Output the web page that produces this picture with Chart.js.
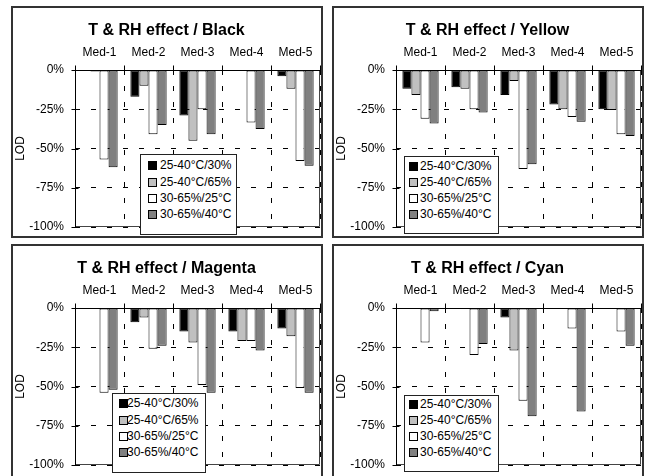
<!DOCTYPE html>
<html><head><meta charset="utf-8">
<script src="https://cdn.jsdelivr.net/npm/chart.js@4/dist/chart.umd.min.js"></script>
<style>
html,body{margin:0;padding:0;background:#fff;width:645px;height:476px;overflow:hidden;font-family:"Liberation Sans",Arial,sans-serif;}
.panel{position:absolute;border:2px solid #333;box-sizing:border-box;background:#fff;}
canvas{position:absolute;}
.legend{position:absolute;border:1px solid #222;background:#fff;box-sizing:border-box;}
.item{position:absolute;font-size:12px;line-height:14px;white-space:nowrap;color:#000;}
.sw{position:absolute;width:9px;height:9px;border:1px solid #000;box-sizing:border-box;}
</style></head><body>
<script>
// ---------- DATA ----------
const categories = ['Med-1','Med-2','Med-3','Med-4','Med-5'];
const seriesLabels = ['25-40\u00B0C/30%','25-40\u00B0C/65%','30-65%/25\u00B0C','30-65%/40\u00B0C'];
const seriesColors = ['#000000','#c0c0c0','#ffffff','#808080'];
const yTickValues = [0,-25,-50,-75,-100];
const panelTitles = ['T & RH effect / Black','T & RH effect / Yellow','T & RH effect / Magenta','T & RH effect / Cyan'];
const yAxisTitle = 'LOD';

// Black
const black_25_40C_30 = [0,-17,-29,0,-4];
const black_25_40C_65 = [-1,-10,-45,0,-12];
const black_30_65_25C = [-57,-41,-25,-33.5,-58];
const black_30_65_40C = [-62,-35,-41,-37.5,-61];
// Yellow
const yellow_25_40C_30 = [-12,-11,-16,-22,-25];
const yellow_25_40C_65 = [-16,-12,-7,-25,-25.5];
const yellow_30_65_25C = [-31,-25,-63,-30,-41];
const yellow_30_65_40C = [-34,-27,-60,-33,-42];
// Magenta
const magenta_25_40C_30 = [0,-9,-15,-15,-13];
const magenta_25_40C_65 = [0,-6,-22,-21,-18];
const magenta_30_65_25C = [-54,-26,-49,-21,-51];
const magenta_30_65_40C = [-52,-24,-54,-27,-54];
// Cyan
const cyan_25_40C_30 = [0,0,-6,0,0];
const cyan_25_40C_65 = [0,0,-27,0,0];
const cyan_30_65_25C = [-22,-30,-59,-13,-15];
const cyan_30_65_40C = [-2,-23,-69,-66,-24];

const panelSeries = [
  [black_25_40C_30, black_25_40C_65, black_30_65_25C, black_30_65_40C],
  [yellow_25_40C_30, yellow_25_40C_65, yellow_30_65_25C, yellow_30_65_40C],
  [magenta_25_40C_30, magenta_25_40C_65, magenta_30_65_25C, magenta_30_65_40C],
  [cyan_25_40C_30, cyan_25_40C_65, cyan_30_65_25C, cyan_30_65_40C]
];

// ---------- LAYOUT ----------
const FONT = '"Liberation Sans", Arial, sans-serif';
const panels = [
  {left:11, top:6, h:232},
  {left:332, top:6, h:232},
  {left:11, top:244, h:240},
  {left:332, top:244, h:240}
];
const PW = 312;
// chart area relative to panel's outer top-left
const CA = {L:64, T:64, R:309, B:221};
const legends = [
  {x:127, y:146, w:97, h:81, rows:[11,28,44,60], sw:8, tx:20},
  {x:70, y:148, w:95, h:78, rows:[10,26,42,58], sw:5, tx:16},
  {x:99, y:147, w:94, h:80, rows:[10,27,43,59], sw:7, tx:15},
  {x:70, y:149, w:95, h:77, rows:[9,25,41,57], sw:5, tx:16}
];

const decor = {
  id:'decor',
  beforeDatasetsDraw(chart){
    const {ctx, chartArea:a} = chart;
    ctx.save();
    ctx.strokeStyle = '#444'; ctx.lineWidth = 1;
    const r = Math.round(a.right) - 0.5, b = Math.round(a.bottom) - 0.5;
    ctx.beginPath();
    ctx.moveTo(r, a.top); ctx.lineTo(r, b); ctx.lineTo(a.left, b);
    ctx.stroke();
    ctx.restore();
  },
  afterDatasetsDraw(chart){
    const {ctx, chartArea:a, scales:{x, y}} = chart;
    ctx.save();
    ctx.strokeStyle = '#000'; ctx.lineWidth = 1;
    const l = Math.round(a.left) + 0.5;
    const z = Math.round(y.getPixelForValue(0)) + 0.5;
    ctx.beginPath();
    ctx.moveTo(l, a.top); ctx.lineTo(l, a.bottom);
    ctx.moveTo(a.left, z); ctx.lineTo(a.right, z);
    yTickValues.forEach(v => {
      const py = Math.round(y.getPixelForValue(v)) + 0.5;
      ctx.moveTo(l - 4, py); ctx.lineTo(l + 3, py);
    });
    for (let i = 0; i <= categories.length; i++) {
      const px = Math.round(x.getPixelForValue(i - 0.5)) + 0.5;
      ctx.moveTo(px, z - 5); ctx.lineTo(px, z + 3);
    }
    ctx.stroke();
    ctx.restore();
  }
};

panels.forEach((p, k) => {
  const div = document.createElement('div');
  div.className = 'panel';
  div.style.left = p.left + 'px'; div.style.top = p.top + 'px';
  div.style.width = PW + 'px'; div.style.height = p.h + 'px';
  document.body.appendChild(div);

  const cw = PW - 4, ch = 228;
  const cv = document.createElement('canvas');
  cv.width = cw; cv.height = ch;
  cv.style.left = '0px'; cv.style.top = '0px';
  cv.style.width = cw + 'px'; cv.style.height = ch + 'px';
  div.appendChild(cv);

  const L = CA.L - 2, T = CA.T - 2, R = CA.R - 2, B = CA.B - 2;
  const titleTop = 13, titleLH = 20;

  new Chart(cv, {
    type: 'bar',
    data: {
      labels: categories,
      datasets: panelSeries[k].map((vals, i) => ({
        label: seriesLabels[i],
        data: vals,
        backgroundColor: seriesColors[i],
        borderColor: '#000',
        borderWidth: 1,
        borderSkipped: false,
        categoryPercentage: 0.74,
        barPercentage: 1.0
      }))
    },
    options: {
      responsive: false,
      animation: false,
      devicePixelRatio: 1,
      layout: {padding: {left: 0, top: 0, right: cw - R, bottom: ch - B}},
      plugins: {
        legend: {display: false},
        tooltip: {enabled: false},
        title: {
          display: true, text: panelTitles[k], color: '#000',
          font: {family: FONT, size: 16, weight: 'bold', lineHeight: titleLH / 16},
          padding: {top: titleTop, bottom: 0}
        }
      },
      scales: {
        x: {
          position: 'top',
          offset: true,
          grid: {display: true, drawOnChartArea: true, drawTicks: false, offset: true, color: '#000', lineWidth: 1},
          border: {display: false, dash: [5, 11]},
          ticks: {color: '#000', font: {family: FONT, size: 12}, padding: 10, maxRotation: 0},
          afterFit: s => { s.height = T - (titleTop + titleLH); s.paddingLeft = 0; s.paddingRight = 0; }
        },
        y: {
          min: -100, max: 0,
          afterBuildTicks: s => { s.ticks = yTickValues.map(v => ({value: v})); },
          grid: {display: true, drawOnChartArea: true, drawTicks: false, color: '#000', lineWidth: 1},
          border: {display: false, dash: [5, 11]},
          ticks: {color: '#000', font: {family: FONT, size: 12}, padding: 11, callback: v => v + '%'},
          title: {display: true, text: yAxisTitle, color: '#000', font: {family: FONT, size: 12}, padding: {top: 0, bottom: 0}},
          afterFit: s => { s.width = L; s.paddingTop = 0; s.paddingBottom = 0; }
        }
      }
    },
    plugins: [decor]
  });

  const lg = legends[k];
  const box = document.createElement('div');
  box.className = 'legend';
  box.style.left = lg.x + 'px'; box.style.top = lg.y + 'px';
  box.style.width = lg.w + 'px'; box.style.height = lg.h + 'px';
  seriesLabels.forEach((lab, i) => {
    const sw = document.createElement('div');
    sw.className = 'sw';
    sw.style.left = (lg.sw - 1) + 'px';
    sw.style.top = (lg.rows[i] - 1 - 4.5) + 'px';
    sw.style.background = seriesColors[i];
    box.appendChild(sw);
    const t = document.createElement('div');
    t.className = 'item';
    t.textContent = lab;
    t.style.left = (lg.tx - 1) + 'px';
    t.style.top = (lg.rows[i] - 1 - 7) + 'px';
    box.appendChild(t);
  });
  div.appendChild(box);
});
</script>
</body></html>
